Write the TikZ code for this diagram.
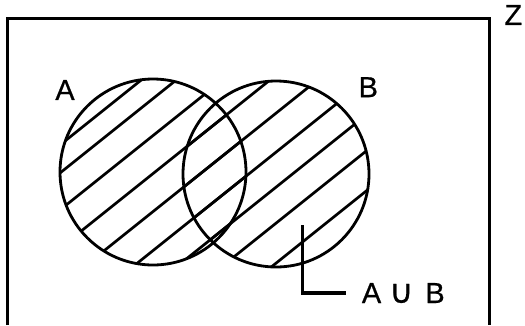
\documentclass[tikz,border=0pt]{standalone}
\usepackage{fontspec}
\setmainfont{Liberation Sans}
\newfontfamily\labelfont{Liberation Sans}[FakeBold=0.6]
\newfontfamily\symfont{DejaVu Sans}[FakeBold=0.8]
\usetikzlibrary{positioning}

\begin{document}
\begin{tikzpicture}[x=1pt, y=-1pt,
  frame/.style={draw=black, line width=3pt},
  setcircle/.style={draw=black, circle, line width=2.8pt, minimum size=186pt, inner sep=0pt},
  hatch/.style={black, line width=2.7pt},
  setlabel/.style={font=\labelfont\fontsize{29}{34}\selectfont, inner sep=0pt},
  leader/.style={black, line width=3.5pt}
]
\useasboundingbox (0,0) rectangle (525,325);

\draw[frame] (7.5,325) -- (7.5,18.5) -- (489,18.5) -- (489,325);

\begin{scope}
  \clip (153,172) circle (93pt);
  \foreach \c in {193,221,258,296,334,373,408,444,484}
    \draw[hatch] (0,\c) -- (525,\c-420);
\end{scope}
\begin{scope}
  \clip (276,174) circle (93pt);
  \foreach \c in {193,221,258,296,334,373,408,444,484}
    \draw[hatch] (0,\c) -- (525,\c-420);
\end{scope}

\node[setcircle] (A) at (153,172) {};
\node[setcircle] (B) at (276,174) {};

\node[setlabel] (labelA) at (65,90) {A};
\node[setlabel] (labelB) at (368.3,87.2) {B};
\node[setlabel] (universe) at (513.3,15) {Z};
\node[setlabel, anchor=base] (union) at (403.3,303)
  {A\hspace{8pt}{\symfont\fontsize{33}{38}\selectfont ∪}\hspace{12pt}B};

\coordinate (tip) at (302.5,225);
\draw[leader] (tip) |- ([xshift=-16pt]union.west);
\end{tikzpicture}
\end{document}
